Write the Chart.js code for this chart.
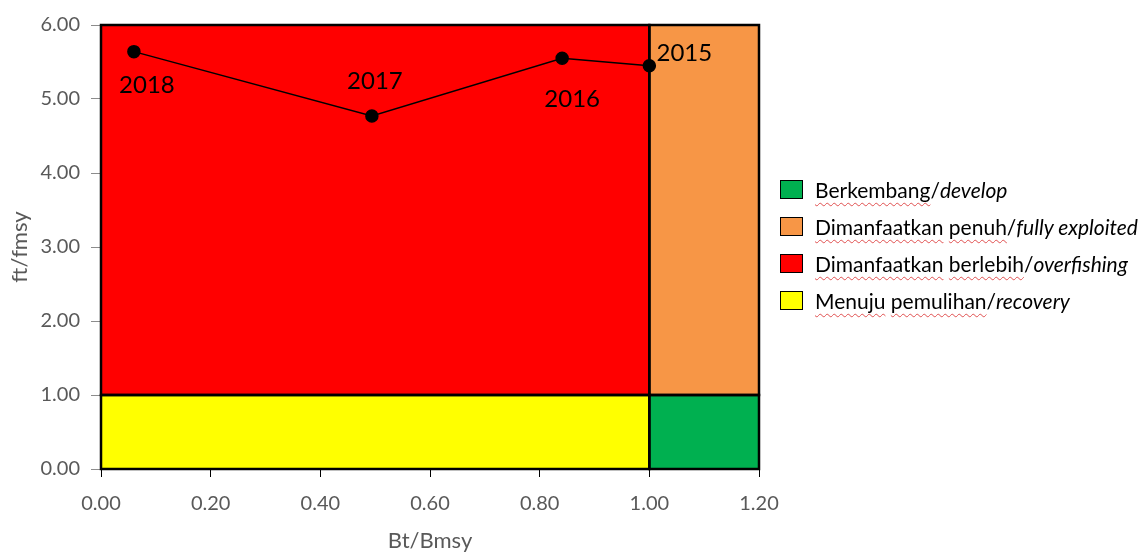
<!DOCTYPE html>
<html>
<head>
<meta charset="utf-8">
<script src="https://cdn.jsdelivr.net/npm/chart.js@4.4.1/dist/chart.umd.min.js"></script>
<style>
  body { margin: 0; background: #fff; }
  #wrap { position: relative; width: 1144px; height: 554px; }
  #legend { position: absolute; left: 780px; top: 171px; font-family: Lato, sans-serif; font-size: 21px; color: #000; }
  .row { display: flex; align-items: center; height: 37px; white-space: nowrap; }
  .box { width: 23px; height: 19px; border: 1px solid #000; box-sizing: border-box; margin-right: 12px; }
  .sp { text-decoration: underline wavy #e05050; text-decoration-thickness: 1px; text-underline-offset: 4px; }
</style>
</head>
<body>
<div id="wrap">
  <canvas id="kobe" width="1144" height="554"></canvas>
  <div id="legend"></div>
</div>
<script>
// Bt/Bmsy and ft/fmsy per year
const bt = [0.06, 0.494, 0.841, 1.0];
const ft = [5.64, 4.77, 5.55, 5.45];
const years = ["2018", "2017", "2016", "2015"];

// status zones (legend order)
const zoneId = ["Berkembang", "Dimanfaatkan penuh", "Dimanfaatkan berlebih", "Menuju pemulihan"];
const zoneEn = ["develop", "fully exploited", "overfishing", "recovery"];
const zoneColors = ["#00B050", "#F79646", "#FF0000", "#FFFF00"];
const zoneBt = [[1.0, 1.2], [1.0, 1.2], [0, 1.0], [0, 1.0]];
const zoneFt = [[0, 1], [1, 6], [1, 6], [0, 1]];

// legend
const legend = document.getElementById("legend");
zoneId.forEach((name, i) => {
  const row = document.createElement("div");
  row.className = "row";
  const words = name.split(" ").map((w) => `<span class="sp">${w}</span>`).join(" ");
  row.innerHTML = `<span class="box" style="background:${zoneColors[i]}"></span><span>${words}/<i>${zoneEn[i]}</i></span>`;
  legend.appendChild(row);
});

const zonesPlugin = {
  id: "zones",
  beforeDatasetsDraw(chart) {
    const { ctx, scales: { x, y } } = chart;
    const rects = zoneColors.map((c, i) => {
      const x0 = x.getPixelForValue(zoneBt[i][0]);
      const x1 = x.getPixelForValue(zoneBt[i][1]);
      const y0 = y.getPixelForValue(zoneFt[i][0]);
      const y1 = y.getPixelForValue(zoneFt[i][1]);
      return [x0, y1, x1 - x0, y0 - y1, c];
    });
    ctx.save();
    rects.forEach((r) => {
      ctx.fillStyle = r[4];
      ctx.fillRect(r[0], r[1], r[2], r[3]);
    });
    ctx.strokeStyle = "#000";
    ctx.lineWidth = 2.5;
    rects.forEach((r) => ctx.strokeRect(r[0], r[1], r[2], r[3]));
    ctx.restore();
  },
};

const yearLabels = {
  id: "yearLabels",
  afterDatasetsDraw(chart, args, opts) {
    const { ctx } = chart;
    const meta = chart.getDatasetMeta(0);
    ctx.save();
    ctx.font = "24px Lato";
    ctx.fillStyle = "#000";
    ctx.textAlign = "center";
    ctx.textBaseline = "middle";
    meta.data.forEach((pt, i) => {
      const off = opts.offsets[i];
      ctx.fillText(years[i], pt.x + off[0], pt.y + off[1]);
    });
    ctx.restore();
  },
};

const gray = "#595959";

new Chart(document.getElementById("kobe"), {
  type: "scatter",
  data: {
    datasets: [
      {
        data: bt.map((v, i) => ({ x: v, y: ft[i] })),
        showLine: true,
        borderColor: "#000",
        borderWidth: 1.5,
        pointRadius: 6,
        pointBackgroundColor: "#000",
        pointBorderColor: "#000",
        clip: false,
      },
    ],
  },
  options: {
    responsive: false,
    animation: false,
    layout: { padding: { left: 0, top: 25, right: 385, bottom: 0 } },
    plugins: {
      legend: { display: false },
      tooltip: { enabled: false },
      yearLabels: { offsets: [[13, 34], [3, -35], [10, 41], [35, -12]] },
    },
    scales: {
      x: {
        type: "linear",
        min: 0,
        max: 1.2,
        afterFit: (s) => { s.height = 85; },
        border: { display: false },
        grid: { drawOnChartArea: false, tickLength: 8, color: "#000" },
        ticks: {
          stepSize: 0.2,
          padding: 15,
          color: gray,
          font: { family: "Lato", size: 20 },
          callback: (v) => v.toFixed(2),
        },
        title: {
          display: true,
          text: "Bt/Bmsy",
          color: gray,
          font: { family: "Lato", size: 22 },
          padding: { top: 0, bottom: 0 },
        },
      },
      y: {
        type: "linear",
        min: 0,
        max: 6,
        afterFit: (s) => { s.width = 101; },
        border: { display: false },
        grid: { drawOnChartArea: false, tickLength: 10, color: "#8c8c8c" },
        ticks: {
          stepSize: 1,
          padding: 11,
          color: gray,
          font: { family: "Lato", size: 20 },
          callback: (v) => v.toFixed(2),
        },
        title: {
          display: true,
          text: "ft/fmsy",
          color: gray,
          font: { family: "Lato", size: 22 },
          padding: { top: 7, bottom: 0 },
        },
      },
    },
  },
  plugins: [zonesPlugin, yearLabels],
});
</script>
</body>
</html>
